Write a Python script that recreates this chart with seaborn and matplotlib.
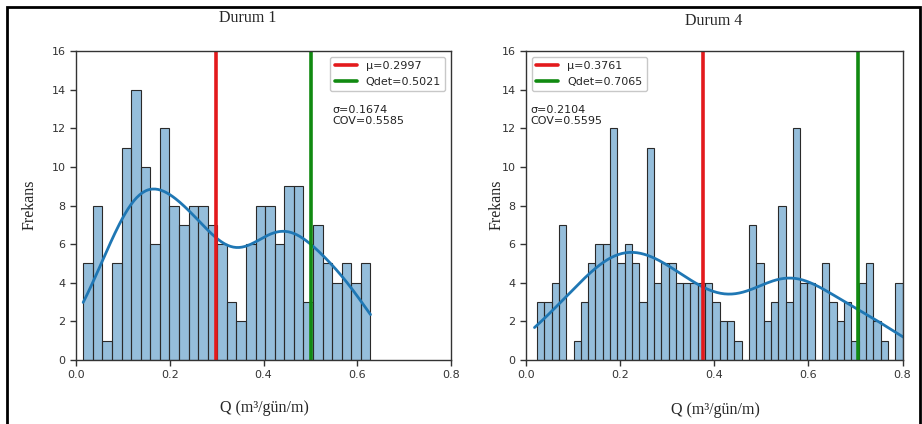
import numpy as np
import pandas as pd
import seaborn as sns
import matplotlib
matplotlib.use("Agg")
import matplotlib.pyplot as plt
from matplotlib.patches import Rectangle

# ---------------- data ----------------
titles = ["Durum 1", "Durum 4"]
d1_counts = [5, 8, 1, 5, 11, 14, 10, 6, 12, 8, 7, 8, 8, 7, 6, 3, 2, 6, 8, 8,
             6, 9, 9, 3, 7, 5, 4, 5, 4, 5]
d1_range = (0.0156, 0.628)
d4_counts = [3, 3, 4, 7, 0, 1, 3, 5, 6, 6, 12, 5, 6, 5, 3, 11, 4, 5, 5, 4,
             4, 4, 4, 4, 3, 2, 2, 1, 0, 7, 5, 2, 3, 8, 3, 12, 4, 4, 0, 5,
             3, 2, 3, 1, 4, 5, 2, 1, 0, 4]
d4_range = (0.0233, 0.800)
mu_vals = [0.2997, 0.3761]
qdet_vals = [0.5021, 0.7065]
sigma_vals = [0.1674, 0.2104]
cov_vals = [0.5585, 0.5595]
x_ticks = [0.0, 0.2, 0.4, 0.6, 0.8]
y_ticks = [0, 2, 4, 6, 8, 10, 12, 14, 16]

sns.set_theme(style="ticks")
plt.rcParams["font.family"] = ["DejaVu Sans"]

W, H = 922, 424
fig = plt.figure(figsize=(W / 100, H / 100), dpi=100)
fig.patch.set_facecolor("white")

def px_axes(x0, x1, y0, y1):
    return fig.add_axes([x0 / W, 1 - y1 / H, (x1 - x0) / W, (y1 - y0) / H])

axes = [px_axes(76, 451, 51, 360), px_axes(526, 902.5, 51, 360)]
datasets = [(d1_counts, d1_range), (d4_counts, d4_range)]

serif = ["Liberation Serif", "DejaVu Serif"]

for i, (ax, (counts, rng)) in enumerate(zip(axes, datasets)):
    n = len(counts)
    edges = np.linspace(rng[0], rng[1], n + 1)
    centers = (edges[:-1] + edges[1:]) / 2
    # one observation per counted sample, placed at its bin centre
    df = pd.DataFrame({"Q": np.repeat(centers, counts)})
    sns.histplot(data=df, x="Q", bins=n, binrange=rng, kde=True,
                 color="#2c7fb8", alpha=0.5, edgecolor="#2a2a2a", linewidth=0.8,
                 line_kws=dict(lw=2.0), kde_kws=dict(cut=0.18), ax=ax)
    if ax.lines:
        ax.lines[0].set_color("#1f77b4")
    ax.axvline(mu_vals[i], color="#e31a1c", lw=2.6, label=f"μ={mu_vals[i]:.4f}")
    ax.axvline(qdet_vals[i], color="#118a11", lw=2.6, label=f"Qdet={qdet_vals[i]:.4f}")
    ax.set_xlim(0, 0.8)
    ax.set_ylim(0, 16)
    ax.set_xticks(x_ticks)
    ax.set_yticks(y_ticks)
    ax.set_xticklabels([f"{t:.1f}" for t in x_ticks])
    ax.tick_params(labelsize=8, colors="#333333", length=4, width=1)
    for sp in ax.spines.values():
        sp.set_visible(True)
        sp.set_color("#333333")
        sp.set_linewidth(1.0)
    ax.set_xlabel("")
    ax.set_ylabel("")
    leg = ax.legend(loc="upper right" if i == 0 else "upper left", fontsize=8,
                    frameon=True, fancybox=True, handlelength=2.0)
    leg.get_frame().set_edgecolor("#bbbbbb")
    tx = 0.683 if i == 0 else 0.012
    ax.text(tx, 0.825, f"σ={sigma_vals[i]:.4f}\nCOV={cov_vals[i]:.4f}",
            transform=ax.transAxes, fontsize=8, va="top", ha="left",
            color="#222222", linespacing=1.1)

# titles and labels (serif, as in the reference)
fig.text(248 / W, 1 - 18 / H, titles[0], family=serif, fontsize=11.5,
         ha="center", va="center")
fig.text(714 / W, 1 - 21 / H, titles[1], family=serif, fontsize=11.5,
         ha="center", va="center")
for xc in (30, 497):
    fig.text(xc / W, 1 - 205 / H, "Frekans", family=serif, fontsize=11.5,
             rotation=90, ha="center", va="center")
for xc, yc in ((264, 408), (715, 410)):
    fig.text(xc / W, 1 - yc / H, "Q (m³/gün/m)", family=serif, fontsize=11.5,
             ha="center", va="center")

# outer frame
fig.patches.append(Rectangle((7 / W, -0.05), (920 - 7) / W, 1 - 7 / H + 0.05,
                             transform=fig.transFigure, fill=False,
                             edgecolor="black", lw=2.0))

fig.savefig("out.png", dpi=100)
